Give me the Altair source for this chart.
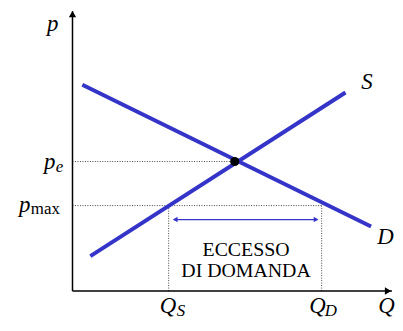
import altair as alt
import pandas as pd

# ---- data ----
demand_Q = [0.33, 10.03]
demand_p = [6.93, 2.17]
supply_Q = [0.60, 9.17]
supply_p = [1.17, 6.67]
eq_Q = 5.45
eq_p = 4.35
p_max = 2.87
Q_S = 3.23
Q_D = 8.37
axis_Q_end = 10.73
axis_p_end = 9.40
arrow_p = 2.40
arrow_Q = [3.40, 8.23]
excess_text = ["ECCESSO", "DI DOMANDA"]

BLUE = "#3434c8"
FONT = "Liberation Serif"

xs = alt.Scale(domain=[-2.1667, 10.7333], nice=False, zero=False)
ys = alt.Scale(domain=[-1.0333, 9.4667], nice=False, zero=False)


def X(f="Q"):
    return alt.X(f"{f}:Q", scale=xs, axis=None)


def Y(f="p"):
    return alt.Y(f"{f}:Q", scale=ys, axis=None)


# curves
curves = pd.DataFrame({
    "curve": ["D", "D", "S", "S"],
    "Q": demand_Q + supply_Q,
    "p": demand_p + supply_p,
})
lines = alt.Chart(curves).mark_line(color=BLUE, strokeWidth=4, strokeCap="butt").encode(
    x=X(), y=Y(), detail="curve:N"
)

# axes
axes_df = pd.DataFrame({"Q": [0, 0], "p": [0, 0], "Q2": [0, axis_Q_end], "p2": [axis_p_end, 0]})
axes = alt.Chart(axes_df).mark_rule(color="black", strokeWidth=1.5).encode(
    x=X(), y=Y(), x2="Q2:Q", y2="p2:Q"
)
heads_df = pd.DataFrame({"Q": [0, axis_Q_end - 0.13], "p": [axis_p_end - 0.1, 0],
                         "shape": ["triangle-up", "triangle-right"]})
heads = alt.Chart(heads_df).mark_point(filled=True, color="black", opacity=1, size=55).encode(
    x=X(), y=Y(), shape=alt.Shape("shape:N", scale=None)
)

# dotted guides
guides_df = pd.DataFrame({
    "Q": [0, 0, Q_S, Q_D],
    "Q2": [eq_Q, Q_D, Q_S, Q_D],
    "p": [eq_p, p_max, 0, 0],
    "p2": [eq_p, p_max, p_max, p_max],
})
guides = alt.Chart(guides_df).mark_rule(color="#444444", strokeWidth=1, strokeDash=[1, 1.5]).encode(
    x=X(), y=Y(), x2="Q2:Q", y2="p2:Q"
)

# equilibrium point
eq = alt.Chart(pd.DataFrame({"Q": [eq_Q], "p": [eq_p]})).mark_circle(
    color="black", opacity=1, size=85
).encode(x=X(), y=Y())

# excess arrow
arrow_df = pd.DataFrame({"Q": [arrow_Q[0]], "Q2": [arrow_Q[1]], "p": [arrow_p]})
arrow = alt.Chart(arrow_df).mark_rule(color=BLUE, strokeWidth=1.3).encode(x=X(), x2="Q2:Q", y=Y())
ah_df = pd.DataFrame({"Q": [arrow_Q[0] + 0.05, arrow_Q[1] - 0.05], "p": [arrow_p, arrow_p],
                      "shape": ["triangle-left", "triangle-right"]})
arrow_heads = alt.Chart(ah_df).mark_point(filled=True, color=BLUE, opacity=1, size=30).encode(
    x=X(), y=Y(), shape=alt.Shape("shape:N", scale=None)
)

# labels
main_df = pd.DataFrame({
    "t": ["p", "p", "p", "Q", "Q", "Q", "S", "D"],
    "Q": [-0.86, -0.96, -1.80, Q_S - 0.30, Q_D - 0.42, 10.27, 9.70, 10.24],
    "p": [8.73, eq_p - 0.26, p_max - 0.22, -0.73, -0.73, -0.73, 6.80, 1.57],
})
main_lbl = alt.Chart(main_df).mark_text(
    font=FONT, fontStyle="italic", fontSize=23, align="left", baseline="alphabetic", color="black"
).encode(x=X(), y=Y(), text="t:N")

sub_df = pd.DataFrame({
    "t": ["e", "S", "D"],
    "Q": [-0.56, Q_S + 0.27, Q_D + 0.10],
    "p": [eq_p - 0.36, -0.83, -0.83],
})
sub_lbl = alt.Chart(sub_df).mark_text(
    font=FONT, fontStyle="italic", fontSize=17, align="left", baseline="alphabetic", color="black"
).encode(x=X(), y=Y(), text="t:N")

max_lbl = alt.Chart(pd.DataFrame({"t": ["max"], "Q": [-1.40], "p": [p_max - 0.28]})).mark_text(
    font=FONT, fontSize=17, align="left", baseline="alphabetic", color="black"
).encode(x=X(), y=Y(), text="t:N")

excess_df = pd.DataFrame({"t": ["\n".join(excess_text)], "Q": [5.83], "p": [1.17]})
excess_lbl = alt.Chart(excess_df).mark_text(
    font=FONT, fontSize=20, align="center", baseline="alphabetic", color="black",
    lineBreak="\n", lineHeight=21
).encode(x=X(), y=Y(), text="t:N")

chart = alt.layer(
    guides, axes, heads, lines, eq, arrow, arrow_heads, main_lbl, sub_lbl, max_lbl, excess_lbl
).properties(width=387, height=315, padding=0).configure_view(stroke=None)

chart.save("out.html", embed_options={"renderer": "svg", "actions": False})
